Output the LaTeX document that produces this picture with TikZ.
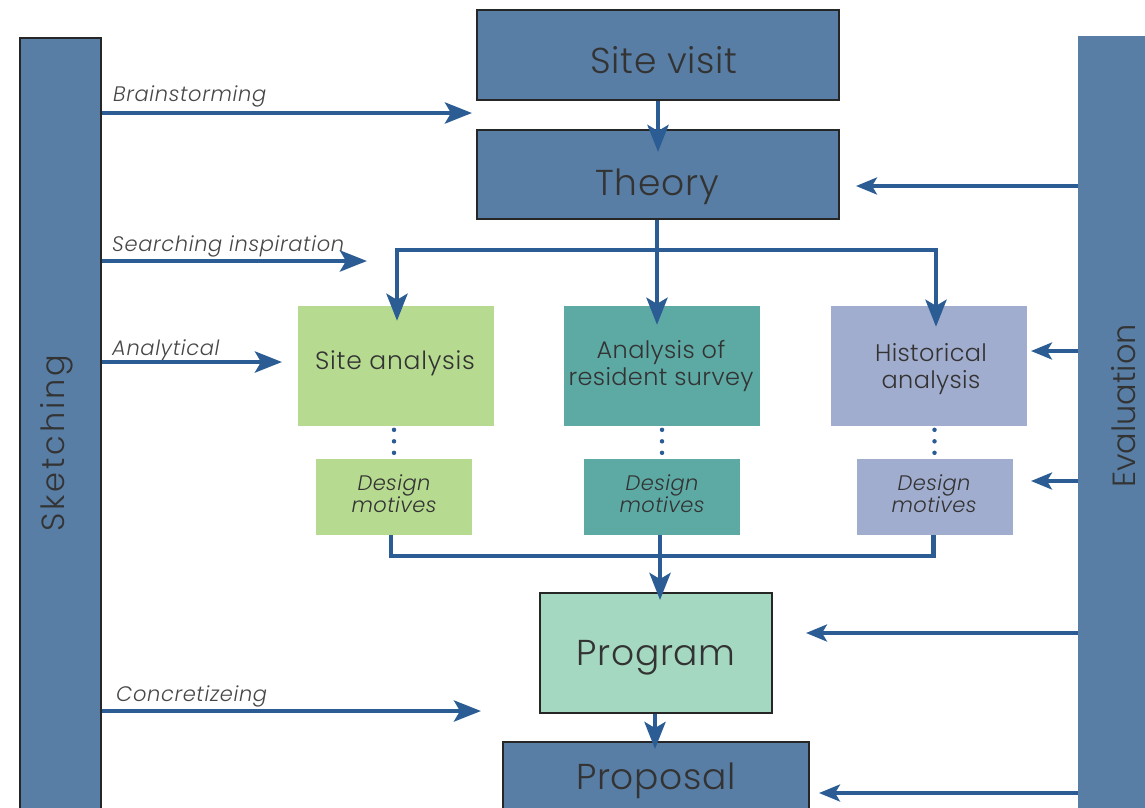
\documentclass[tikz,border=0pt]{standalone}
\usepackage{fontspec}
\setmainfont{Poppins}[UprightFont=* Light, ItalicFont=* Light Italic]
\usetikzlibrary{arrows.meta,calc}
\definecolor{barblue}{HTML}{587EA5}
\definecolor{arrblue}{HTML}{2B5D94}
\definecolor{cgreen}{HTML}{B6DB90}
\definecolor{cteal}{HTML}{5DAAA5}
\definecolor{clav}{HTML}{A1ADCE}
\definecolor{cprog}{HTML}{A5D8C1}
\definecolor{txt}{HTML}{333333}
\tikzset{
  bigbox/.style={draw=black!85, line width=2pt, fill=barblue, inner sep=0pt},
  lightbox/.style={draw=none, inner sep=0pt},
  bigtxt/.style={text=txt, font=\fontsize{36}{40}\selectfont\addfontfeatures{LetterSpace=2}, inner sep=0pt},
  midtxt/.style={text=txt, font=\fontsize{24}{27}\selectfont\addfontfeatures{LetterSpace=1.5}, align=center, inner sep=0pt},
  dmtxt/.style={text=txt, font=\itshape\fontsize{21}{22}\selectfont\addfontfeatures{LetterSpace=2}, align=center, inner sep=0pt},
  lbl/.style={text=txt!90, font=\itshape\fontsize{21}{23}\selectfont\addfontfeatures{LetterSpace=3}, anchor=base west, inner sep=0pt},
  bartxt/.style={text=txt, font=\fontsize{32}{36}\selectfont, rotate=90, inner sep=0pt},
  line/.style={draw=arrblue, line width=4.5pt},
  arr/.style={draw=arrblue, line width=4.5pt, -{Stealth[length=27pt,width=21pt,inset=6pt]}},
  arrs/.style={draw=arrblue, line width=3.5pt, -{Stealth[length=21pt,width=17pt,inset=5pt]}},
  dots/.style={draw=arrblue, line width=4.5pt, line cap=round, dash pattern=on 0pt off 11.5pt},
}
\begin{document}
\begin{tikzpicture}[x=1pt,y=-1pt]
\useasboundingbox (0,0) rectangle (1145,807);
% side bars
\node[bigbox, minimum width=81pt, minimum height=777pt] (sketch) at (60.5,426.5) {};
\node[bartxt, font=\fontsize{32}{36}\selectfont\addfontfeatures{LetterSpace=9}] (sketchlbl) at (57,443) {Sketching};
\node[lightbox, fill=barblue, minimum width=72pt, minimum height=779pt] (eval) at (1114,425.5) {};
\node[bartxt] (evallbl) at (1124,406) {Evaluation};
% main boxes
\node[bigbox, minimum width=362pt, minimum height=90pt] (site) at (658,55) {};
\node[bigtxt] (sitelbl) at (664,60) {Site visit};
\node[bigbox, minimum width=362pt, minimum height=89pt] (theory) at (658,174.5) {};
\node[bigtxt] (theorylbl) at (657,187) {Theory};
\node[lightbox, fill=cgreen, minimum width=196pt, minimum height=120pt] (sa) at (396,366) {};
\node[midtxt, font=\fontsize{25}{27}\selectfont\addfontfeatures{LetterSpace=3}] (salbl) at (395,363) {Site analysis};
\node[lightbox, fill=cteal, minimum width=196pt, minimum height=120pt] (ar) at (662,366) {};
\node[midtxt] (arlbl) at (661,366) {Analysis of\\resident survey};
\node[lightbox, fill=clav, minimum width=196pt, minimum height=120pt] (ha) at (929,366) {};
\node[midtxt] (halbl) at (931,369) {Historical\\analysis};
\node[lightbox, fill=cgreen, minimum width=156pt, minimum height=76pt] (dm1) at (394,497) {};
\node[dmtxt] (dm1lbl) at (394,494) {Design\\motives};
\node[lightbox, fill=cteal, minimum width=156pt, minimum height=76pt] (dm2) at (662,497) {};
\node[dmtxt] (dm2lbl) at (662,494) {Design\\motives};
\node[lightbox, fill=clav, minimum width=156pt, minimum height=76pt] (dm3) at (934.5,497) {};
\node[dmtxt] (dm3lbl) at (934,494) {Design\\motives};
\node[bigbox, fill=cprog, minimum width=232pt, minimum height=120pt] (prog) at (656,653) {};
\node[bigtxt] (proglbl) at (656,658) {Program};
\node[bigbox, minimum width=306pt, minimum height=70pt] (prop) at (656,777) {};
\node[bigtxt] (proplbl) at (656,781) {Proposal};
% labels on left arrows
\node[lbl] (l1) at (113,101) {Brainstorming};
\node[lbl] (l2) at (112,251) {Searching inspiration};
\node[lbl] (l3) at (112,355) {Analytical};
\node[lbl] (l4) at (116,701) {Concretizeing};
% coordinates
\coordinate (t1) at (472,113);
\coordinate (t2) at (367,261);
\coordinate (t3) at (282,362);
\coordinate (t4) at (481,711);
\coordinate (e1) at (856,186);
\coordinate (e2) at (1031,351);
\coordinate (e3) at (1031,481);
\coordinate (e4) at (806,633);
\coordinate (e5) at (819,793);
\coordinate (br) at (657,250);
\coordinate (bl) at (397,250);
\coordinate (bR) at (936,250);
\coordinate (mg) at (660,556);
% left arrows
\draw[arr] (sketch.east |- t1) -- (t1);
\draw[arr] (sketch.east |- t2) -- (t2);
\draw[arr] (sketch.east |- t3) -- (t3);
\draw[arr] (sketch.east |- t4) -- (t4);
% right arrows
\draw[arrs] (eval.west |- e1) -- (e1);
\draw[arrs] (eval.west |- e2) -- (e2);
\draw[arrs] (eval.west |- e3) -- (e3);
\draw[arrs] (eval.west |- e4) -- (e4);
\draw[arrs] (eval.west |- e5) -- (e5);
% flow
\draw[arr] (site.south) -- ($(theory.north)+(0,23)$);
\draw[line] (theory.south -| br) -- (br);
\draw[line, line cap=rect] (bl) -- (bR);
\draw[arr] (bl) -- ($(bl |- sa.north)+(0,15)$);
\draw[arr] (br) -- ($(br |- ar.north)+(0,19)$);
\draw[arr] (bR) -- ($(bR |- ha.north)+(0,21)$);
\draw[dots] ($(dm1.north)+(0,-29)$) -- ($(dm1.north)+(0,-5.5)$);
\draw[dots] ($(dm2.north)+(0,-29)$) -- ($(dm2.north)+(0,-5.5)$);
\draw[dots] ($(dm3.north)+(0,-29)$) -- ($(dm3.north)+(0,-5.5)$);
\draw[line] ([xshift=-3pt]dm1.south) |- (mg);
\draw[line] ([xshift=-1pt]dm3.south) |- (mg);
\draw[line] (dm2.south -| mg) -- (mg);
\draw[arr] (mg) -- ($(mg |- prog.north)+(0,8)$);
\draw[arr] ([xshift=-1pt]prog.south) -- ($(prop.north)+(-1,8)$);
\end{tikzpicture}
\end{document}
